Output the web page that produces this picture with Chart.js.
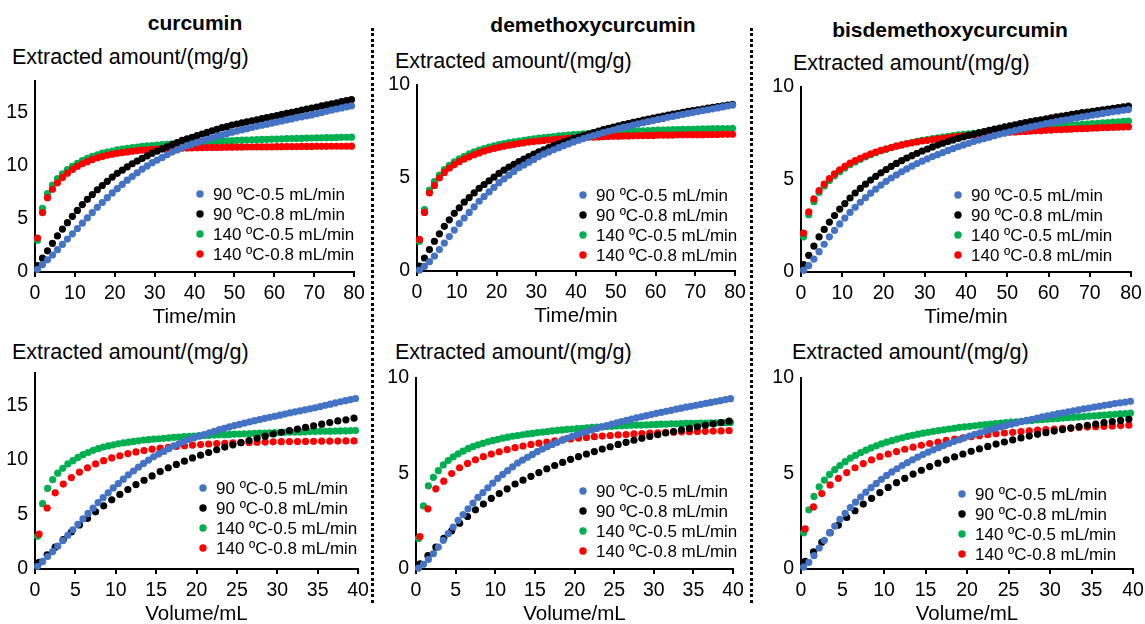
<!DOCTYPE html>
<html>
<head>
<meta charset="utf-8">
<script src="https://cdn.jsdelivr.net/npm/chart.js@4.4.0/dist/chart.umd.min.js"></script>
<style>
  body { margin: 0; background: #fff; width: 1145px; height: 624px; position: relative; overflow: hidden;
         font-family: "Liberation Sans", Arial, sans-serif; color: #000; }
  canvas { position: absolute; }
  .name { position: absolute; font-weight: bold; font-size: 21px; transform: translate(-50%, -50%); white-space: nowrap; }
  .ylab { position: absolute; font-size: 21.5px; transform: translateY(-50%); white-space: nowrap; }
  .sep { position: absolute; width: 3px; background: repeating-linear-gradient(to bottom, #000 0 3px, transparent 3px 5.5px); }
</style>
</head>
<body>
<script>
// sampling times (min), same for every run
const timeMin = [0.63, 1.88, 3.13, 4.38, 5.63, 6.88, 8.13, 9.38,
  10.63, 11.88, 13.13, 14.38, 15.63, 16.88, 18.13, 19.38,
  20.63, 21.88, 23.13, 24.38, 25.63, 26.88, 28.13, 29.38,
  30.63, 31.88, 33.13, 34.38, 35.63, 36.88, 38.13, 39.38,
  40.63, 41.88, 43.13, 44.38, 45.63, 46.88, 48.13, 49.38,
  50.63, 51.88, 53.13, 54.38, 55.63, 56.88, 58.13, 59.38,
  60.63, 61.88, 63.13, 64.38, 65.63, 66.88, 68.13, 69.38,
  70.63, 71.88, 73.13, 74.38, 75.63, 76.88, 78.13, 79.38];

const conditions = ['90 ºC-0.5 mL/min', '90 ºC-0.8 mL/min', '140 ºC-0.5 mL/min', '140 ºC-0.8 mL/min'];
const flowRate = [0.5, 0.8, 0.5, 0.8]; // mL/min
const compounds = ['curcumin', 'demethoxycurcumin', 'bisdemethoxycurcumin'];

// curcumin, mg/g
const cur90_05 = [0.25, 0.7, 1.15, 1.6, 2.1, 2.6, 3.1, 3.6,
  4.1, 4.6, 5.1, 5.6, 6.1, 6.55, 7.0, 7.45,
  7.85, 8.25, 8.65, 9.0, 9.35, 9.7, 10.0, 10.3,
  10.55, 10.8, 11.05, 11.3, 11.5, 11.7, 11.9, 12.05,
  12.2, 12.35, 12.5, 12.65, 12.8, 12.92, 13.05, 13.17,
  13.28, 13.4, 13.51, 13.62, 13.73, 13.83, 13.93, 14.03,
  14.13, 14.23, 14.33, 14.43, 14.53, 14.62, 14.71, 14.8,
  14.92, 15.03, 15.14, 15.25, 15.36, 15.46, 15.56, 15.66];
const cur90_08 = [0.6, 1.3, 2.0, 2.7, 3.4, 4.05, 4.65, 5.25,
  5.8, 6.35, 6.85, 7.3, 7.75, 8.15, 8.55, 8.95,
  9.3, 9.6, 9.9, 10.2, 10.45, 10.7, 10.95, 11.2,
  11.4, 11.6, 11.8, 12.0, 12.2, 12.4, 12.55, 12.7,
  12.85, 13.0, 13.15, 13.3, 13.45, 13.6, 13.7, 13.85,
  13.95, 14.05, 14.15, 14.25, 14.35, 14.45, 14.55, 14.65,
  14.75, 14.85, 14.95, 15.05, 15.15, 15.25, 15.35, 15.45,
  15.55, 15.65, 15.75, 15.85, 15.95, 16.05, 16.15, 16.25];
const cur140_05 = [3.0, 6.0, 7.4, 8.2, 8.8, 9.25, 9.65, 9.95,
  10.25, 10.5, 10.7, 10.9, 11.05, 11.2, 11.3, 11.4,
  11.5, 11.58, 11.65, 11.72, 11.78, 11.84, 11.88, 11.92,
  11.96, 12.0, 12.04, 12.08, 12.12, 12.15, 12.18, 12.21,
  12.24, 12.26, 12.28, 12.3, 12.32, 12.34, 12.36, 12.38,
  12.4, 12.42, 12.44, 12.45, 12.47, 12.49, 12.5, 12.52,
  12.53, 12.55, 12.56, 12.58, 12.59, 12.6, 12.62, 12.63,
  12.64, 12.65, 12.66, 12.67, 12.68, 12.69, 12.7, 12.71];
const cur140_08 = [3.2, 5.6, 7.0, 7.8, 8.4, 8.9, 9.3, 9.65,
  9.95, 10.2, 10.4, 10.6, 10.75, 10.88, 11.0, 11.1,
  11.18, 11.25, 11.32, 11.38, 11.43, 11.48, 11.52, 11.55,
  11.58, 11.6, 11.62, 11.64, 11.66, 11.68, 11.69, 11.7,
  11.71, 11.72, 11.73, 11.74, 11.74, 11.75, 11.76, 11.76,
  11.77, 11.77, 11.78, 11.78, 11.79, 11.79, 11.8, 11.8,
  11.81, 11.81, 11.82, 11.82, 11.82, 11.83, 11.83, 11.83,
  11.84, 11.84, 11.84, 11.85, 11.85, 11.85, 11.85, 11.86];

// demethoxycurcumin, mg/g
const dmc90_05 = [0.05, 0.25, 0.5, 0.8, 1.15, 1.5, 1.85, 2.2,
  2.55, 2.85, 3.15, 3.45, 3.75, 4.0, 4.25, 4.5,
  4.75, 4.95, 5.15, 5.35, 5.55, 5.7, 5.85, 6.0,
  6.15, 6.28, 6.4, 6.52, 6.63, 6.74, 6.84, 6.94,
  7.03, 7.12, 7.2, 7.28, 7.36, 7.44, 7.51, 7.58,
  7.65, 7.72, 7.78, 7.85, 7.91, 7.97, 8.03, 8.09,
  8.15, 8.2, 8.26, 8.31, 8.37, 8.42, 8.47, 8.52,
  8.57, 8.62, 8.67, 8.72, 8.77, 8.82, 8.87, 8.92];
const dmc90_08 = [0.27, 0.7, 1.15, 1.6, 2.0, 2.4, 2.75, 3.1,
  3.4, 3.7, 3.95, 4.2, 4.45, 4.65, 4.85, 5.05,
  5.25, 5.42, 5.58, 5.74, 5.88, 6.02, 6.15, 6.28,
  6.4, 6.52, 6.63, 6.74, 6.84, 6.94, 7.03, 7.12,
  7.2, 7.28, 7.36, 7.44, 7.52, 7.6, 7.67, 7.74,
  7.81, 7.87, 7.93, 7.99, 8.05, 8.11, 8.17, 8.22,
  8.28, 8.33, 8.38, 8.43, 8.48, 8.53, 8.58, 8.62,
  8.67, 8.71, 8.76, 8.8, 8.84, 8.88, 8.92, 8.96];
const dmc140_05 = [1.6, 3.3, 4.35, 4.8, 5.15, 5.45, 5.68, 5.87,
  6.03, 6.17, 6.3, 6.41, 6.5, 6.58, 6.66, 6.73,
  6.79, 6.85, 6.9, 6.95, 6.99, 7.03, 7.07, 7.1,
  7.14, 7.17, 7.2, 7.23, 7.26, 7.28, 7.31, 7.33,
  7.35, 7.37, 7.39, 7.41, 7.43, 7.44, 7.46, 7.47,
  7.49, 7.5, 7.51, 7.52, 7.53, 7.54, 7.55, 7.56,
  7.57, 7.58, 7.59, 7.6, 7.6, 7.61, 7.62, 7.62,
  7.63, 7.64, 7.64, 7.65, 7.65, 7.66, 7.66, 7.67];
const dmc140_08 = [1.7, 3.15, 4.2, 4.6, 5.0, 5.3, 5.53, 5.72,
  5.88, 6.02, 6.14, 6.25, 6.35, 6.44, 6.52, 6.59,
  6.65, 6.71, 6.76, 6.81, 6.85, 6.89, 6.93, 6.96,
  6.99, 7.02, 7.04, 7.07, 7.09, 7.11, 7.13, 7.15,
  7.16, 7.18, 7.19, 7.2, 7.21, 7.22, 7.23, 7.24,
  7.25, 7.26, 7.26, 7.27, 7.28, 7.28, 7.29, 7.29,
  7.3, 7.3, 7.31, 7.31, 7.32, 7.32, 7.32, 7.33,
  7.33, 7.33, 7.34, 7.34, 7.34, 7.35, 7.35, 7.35];

// bisdemethoxycurcumin, mg/g
const bdmc90_05 = [0.1, 0.35, 0.7, 1.1, 1.5, 1.9, 2.25, 2.6,
  2.92, 3.22, 3.5, 3.77, 4.02, 4.26, 4.48, 4.7,
  4.9, 5.08, 5.25, 5.42, 5.57, 5.72, 5.86, 5.99,
  6.12, 6.24, 6.35, 6.46, 6.57, 6.67, 6.77, 6.87,
  6.96, 7.05, 7.13, 7.21, 7.29, 7.37, 7.44, 7.51,
  7.58, 7.65, 7.71, 7.78, 7.84, 7.9, 7.96, 8.02,
  8.07, 8.13, 8.18, 8.23, 8.28, 8.33, 8.38, 8.43,
  8.48, 8.52, 8.57, 8.61, 8.66, 8.7, 8.74, 8.78];
const bdmc90_08 = [0.4, 0.9, 1.4, 1.9, 2.3, 2.7, 3.05, 3.4,
  3.7, 4.0, 4.27, 4.52, 4.75, 4.97, 5.17, 5.36,
  5.54, 5.71, 5.87, 6.02, 6.16, 6.29, 6.42, 6.54,
  6.65, 6.76, 6.86, 6.96, 7.05, 7.14, 7.22, 7.3,
  7.38, 7.45, 7.52, 7.59, 7.66, 7.72, 7.78, 7.84,
  7.9, 7.96, 8.02, 8.07, 8.13, 8.18, 8.23, 8.28,
  8.33, 8.38, 8.43, 8.47, 8.52, 8.56, 8.61, 8.65,
  8.69, 8.73, 8.77, 8.81, 8.85, 8.89, 8.93, 8.97];
const bdmc140_05 = [1.9, 3.1, 3.8, 4.3, 4.65, 4.95, 5.2, 5.42,
  5.62, 5.8, 5.95, 6.09, 6.22, 6.34, 6.45, 6.55,
  6.64, 6.72, 6.8, 6.87, 6.94, 7.0, 7.06, 7.11,
  7.16, 7.21, 7.25, 7.29, 7.33, 7.37, 7.41, 7.44,
  7.47, 7.5, 7.53, 7.56, 7.59, 7.61, 7.64, 7.66,
  7.69, 7.71, 7.73, 7.76, 7.78, 7.8, 7.82, 7.84,
  7.86, 7.88, 7.9, 7.92, 7.94, 7.96, 7.98, 8.0,
  8.02, 8.04, 8.06, 8.08, 8.1, 8.12, 8.14, 8.16];
const bdmc140_08 = [2.1, 3.25, 3.95, 4.4, 4.75, 5.05, 5.3, 5.52,
  5.71, 5.88, 6.02, 6.15, 6.27, 6.38, 6.48, 6.57,
  6.65, 6.73, 6.8, 6.87, 6.93, 6.98, 7.03, 7.08,
  7.12, 7.16, 7.2, 7.23, 7.27, 7.3, 7.33, 7.36,
  7.38, 7.41, 7.43, 7.45, 7.47, 7.49, 7.51, 7.53,
  7.55, 7.57, 7.58, 7.6, 7.61, 7.63, 7.64, 7.66,
  7.67, 7.69, 7.7, 7.71, 7.72, 7.74, 7.75, 7.76,
  7.77, 7.79, 7.8, 7.81, 7.82, 7.83, 7.84, 7.85];

const timeTicks = [0, 10, 20, 30, 40, 50, 60, 70, 80];
const volumeTicks = [0, 5, 10, 15, 20, 25, 30, 35, 40];
const yTicksCur = [0, 5, 10, 15];
const yTicksOther = [0, 5, 10];

const seriesByCompound = [
  [cur90_05, cur90_08, cur140_05, cur140_08],
  [dmc90_05, dmc90_08, dmc140_05, dmc140_08],
  [bdmc90_05, bdmc90_08, bdmc140_05, bdmc140_08]
];

const colors = ['#4472c4', '#000000', '#00b050', '#ff0000'];
const drawOrder = [0, 1, 3, 2];
const FONT = '"Liberation Sans", Arial, sans-serif';

Chart.defaults.font.family = FONT;
Chart.defaults.color = '#000';

// panel geometry: chart area [left, top, right, bottom], column left edge, legend offset from area's right/bottom
const panels = [
  { c: 0, vol: false, area: [35, 81, 354, 272], col: 0, leg: [154, 78], yMax: 18 },
  { c: 1, vol: false, area: [417, 85, 735, 271], col: 380, leg: [152, 76], yMax: 10 },
  { c: 2, vol: false, area: [801, 87, 1131, 272], col: 760, leg: [173, 77], yMax: 10 },
  { c: 0, vol: true, area: [35, 373, 358, 569], col: 0, leg: [155, 81], yMax: 18 },
  { c: 1, vol: true, area: [416, 378, 733, 569], col: 380, leg: [150, 78], yMax: 10 },
  { c: 2, vol: true, area: [801, 378, 1133, 569], col: 760, leg: [171, 75], yMax: 10 }
];

const dotLegend = {
  id: 'dotLegend',
  afterDraw(chart, args, opts) {
    const { ctx, chartArea } = chart;
    ctx.save();
    ctx.font = '17px ' + FONT;
    ctx.textBaseline = 'middle';
    chart.data.datasets.forEach((ds, i) => {
      const x = chartArea.right - opts.dx;
      const y = chartArea.bottom - opts.dy + i * 20;
      ctx.fillStyle = ds.backgroundColor;
      ctx.beginPath();
      ctx.arc(x, y, 3.7, 0, Math.PI * 2);
      ctx.fill();
      ctx.fillStyle = '#000';
      ctx.fillText(ds.label, x + 13, y + 1);
    });
    ctx.restore();
  }
};

function addDiv(cls, text, left, top) {
  const d = document.createElement('div');
  d.className = cls;
  d.textContent = text;
  d.style.left = left + 'px';
  d.style.top = top + 'px';
  document.body.appendChild(d);
}

// headings and y labels
addDiv('name', compounds[0], 195, 23);
addDiv('name', compounds[1], 593, 25);
addDiv('name', compounds[2], 950, 30);
[[12, 57], [395, 61], [793, 63], [12, 352], [395, 352], [792, 352]].forEach(p => {
  addDiv('ylab', 'Extracted amount/(mg/g)', p[0], p[1]);
});
// dotted separators
[371, 750].forEach(x => {
  const s = document.createElement('div');
  s.className = 'sep';
  s.style.left = x + 'px';
  s.style.top = '28px';
  s.style.height = '576px';
  document.body.appendChild(s);
});

panels.forEach(p => {
  const [L, T, R, B] = p.area;
  const yw = L - p.col;
  const cv = document.createElement('canvas');
  cv.width = R + 20 - p.col;
  cv.height = B + 60 - (T - 20);
  cv.style.left = p.col + 'px';
  cv.style.top = (T - 20) + 'px';
  document.body.appendChild(cv);

  const xMax = p.vol ? 40 : 80;
  const xTicks = p.vol ? volumeTicks : timeTicks;
  const yTicks = p.yMax > 10 ? yTicksCur : yTicksOther;

  const datasets = seriesByCompound[p.c].map((ys, k) => {
    let pts = ys.map((y, i) => ({ x: p.vol ? timeMin[i] * flowRate[k] : timeMin[i], y: y }));
    pts = pts.filter(pt => pt.x <= xMax + 0.1);
    return {
      label: conditions[k],
      data: pts,
      backgroundColor: colors[k],
      borderWidth: 0,
      pointRadius: 3.6,
      pointHoverRadius: 3.6,
      showLine: false,
      clip: false,
      order: drawOrder[k]
    };
  });

  new Chart(cv, {
    type: 'scatter',
    data: { datasets: datasets },
    plugins: [dotLegend],
    options: {
      responsive: false,
      animation: false,
      events: [],
      layout: { padding: { left: 0, top: 20, right: 20, bottom: 0 } },
      plugins: {
        legend: { display: false },
        tooltip: { enabled: false },
        dotLegend: { dx: p.leg[0], dy: p.leg[1] }
      },
      scales: {
        x: {
          type: 'linear', min: 0, max: xMax,
          afterBuildTicks: s => { s.ticks = xTicks.map(v => ({ value: v })); },
          afterFit: s => { s.height = 60; },
          grid: { drawOnChartArea: false, color: '#000', lineWidth: 2, tickLength: 5 },
          border: { color: '#000', width: 2 },
          ticks: { color: '#000', font: { size: 19.5 }, padding: 5, maxRotation: 0, autoSkip: false },
          title: { display: true, text: p.vol ? 'Volume/mL' : 'Time/min', color: '#000',
                   font: { size: 20.5 }, padding: { top: 0, bottom: 2 } }
        },
        y: {
          type: 'linear', min: 0, max: p.yMax,
          afterBuildTicks: s => { s.ticks = yTicks.map(v => ({ value: v })); },
          afterFit: s => { s.width = yw; },
          grid: { display: false, drawTicks: false },
          border: { color: '#000', width: 2 },
          ticks: { color: '#000', font: { size: 19.5 }, padding: 7 }
        }
      }
    }
  });
});
</script>
</body>
</html>
